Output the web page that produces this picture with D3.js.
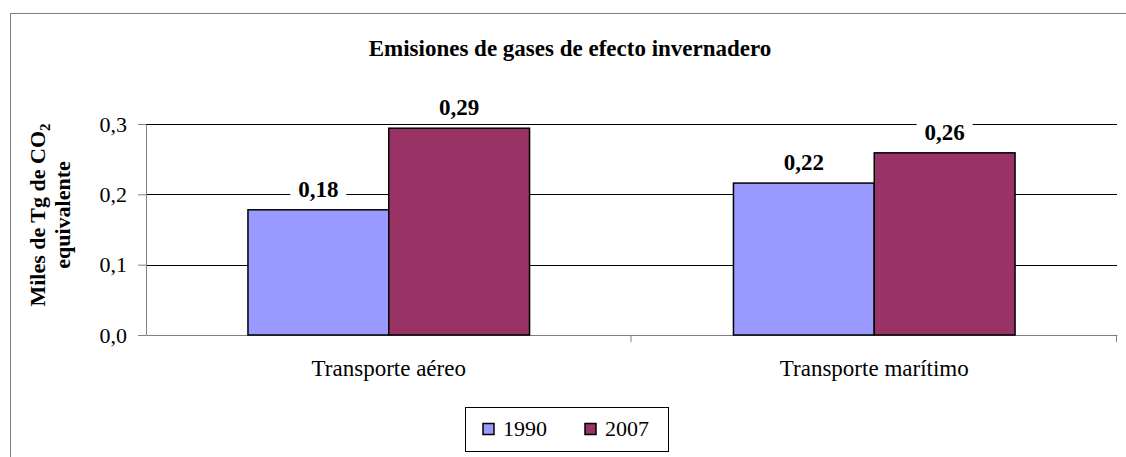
<!DOCTYPE html>
<html>
<head>
<meta charset="utf-8">
<script src="https://cdn.jsdelivr.net/npm/d3@7"></script>
<style>
  body { margin: 0; background: #fff; }
</style>
</head>
<body>
<div id="chart"></div>
<script>
// data
const categories = ["Transporte aéreo", "Transporte marítimo"];
const seriesNames = ["1990", "2007"];
const values1990 = [0.178, 0.216];
const values2007 = [0.294, 0.259];
const yTicks = [0, 0.1, 0.2, 0.3];
const colors = ["#9999FF", "#993366"];

const FONT = "Liberation Serif";
const W = 1126, H = 457;
const margin = { top: 124, right: 9, bottom: 122, left: 146 },
    width = W - margin.left - margin.right,
    height = H - margin.top - margin.bottom;

const fmt = v => d3.format(".2f")(v).replace(".", ",");
const fmtTick = v => d3.format(".1f")(v).replace(".", ",");

const svg = d3.select("#chart").append("svg")
    .attr("width", W)
    .attr("height", H)
    .attr("font-family", FONT);

// outer frame
svg.append("rect")
    .attr("x", 10.5).attr("y", 13.5)
    .attr("width", W).attr("height", H)
    .attr("fill", "none")
    .attr("stroke", "#808080");

const g = svg.append("g")
    .attr("transform", `translate(${margin.left},${margin.top})`);

const x0 = d3.scaleBand()
    .domain(categories)
    .range([0, width])
    .padding(0);

const gap = x0.bandwidth() * 0.21;
const x1 = d3.scaleBand()
    .domain(seriesNames)
    .range([gap, x0.bandwidth() - gap])
    .padding(0);

const y = d3.scaleLinear()
    .domain([0, 0.3])
    .range([height, 0]);

// gridlines
g.append("g")
    .selectAll("line")
    .data(yTicks.filter(d => d > 0))
  .enter().append("line")
    .attr("x1", 0).attr("x2", width)
    .attr("y1", d => Math.round(y(d)) + 0.5)
    .attr("y2", d => Math.round(y(d)) + 0.5)
    .attr("stroke", "#000");

// y axis
const yAxis = g.append("g")
    .call(d3.axisLeft(y).tickValues(yTicks).tickFormat(fmtTick).tickSize(8).tickSizeOuter(0));
yAxis.attr("font-family", FONT).attr("font-size", 22);
yAxis.select(".domain").attr("stroke", "#808080");
yAxis.selectAll(".tick line").attr("stroke", "#808080");
yAxis.selectAll("text")
    .attr("x", -19)
    .attr("fill", "#000");

// x axis
const xAxis = g.append("g")
    .attr("transform", `translate(0,${height})`)
    .call(d3.axisBottom(x0).tickSize(0).tickSizeOuter(0));
xAxis.attr("font-family", FONT).attr("font-size", 23);
xAxis.select(".domain").attr("stroke", "#808080");
xAxis.selectAll("text")
    .attr("dy", null)
    .attr("y", 41)
    .attr("fill", "#000");
// category separators
g.append("g")
    .selectAll("line")
    .data(categories)
  .enter().append("line")
    .attr("x1", d => x0(d) + x0.bandwidth() - 0.5)
    .attr("x2", d => x0(d) + x0.bandwidth() - 0.5)
    .attr("y1", height).attr("y2", height + 7)
    .attr("stroke", "#808080");

// bars
const rows = categories.map((c, i) => ({
    category: c,
    vals: [values1990[i], values2007[i]].map((v, j) => ({ key: seriesNames[j], value: v, color: colors[j] }))
}));

const grp = g.selectAll(".grp")
    .data(rows)
  .enter().append("g")
    .attr("class", "grp")
    .attr("transform", d => `translate(${x0(d.category)},0)`);

grp.selectAll("rect")
    .data(d => d.vals)
  .enter().append("rect")
    .attr("x", d => x1(d.key))
    .attr("y", d => y(d.value))
    .attr("width", x1.bandwidth())
    .attr("height", d => height - y(d.value))
    .attr("fill", d => d.color)
    .attr("stroke", "#000")
    .attr("stroke-width", 1.5);

// value labels with white background
const lab = grp.selectAll(".lab")
    .data(d => d.vals)
  .enter().append("g")
    .attr("class", "lab")
    .attr("transform", d => `translate(${x1(d.key) + x1.bandwidth() / 2},${y(d.value) - 13})`);
lab.append("rect")
    .attr("x", -28).attr("y", -20)
    .attr("width", 56).attr("height", 25)
    .attr("fill", "#fff");
lab.append("text")
    .attr("text-anchor", "middle")
    .attr("font-size", 23)
    .attr("font-weight", "bold")
    .text(d => fmt(d.value));

// title
svg.append("text")
    .attr("x", 570)
    .attr("y", 56)
    .attr("text-anchor", "middle")
    .attr("font-size", 23)
    .attr("font-weight", "bold")
    .text("Emisiones de gases de efecto invernadero");

// y label
const yl = svg.append("text")
    .attr("transform", "translate(45,215) rotate(-90)")
    .attr("text-anchor", "middle")
    .attr("font-size", 22)
    .attr("font-weight", "bold");
yl.append("tspan").attr("x", 0).attr("y", 0).text("Miles de Tg de CO");
yl.append("tspan").attr("dy", 5).attr("font-size", 15).text("2");
yl.append("tspan").attr("x", 0).attr("y", 25).text("equivalente");

// legend
const lg = svg.append("g").attr("transform", "translate(465.5,407.5)");
lg.append("rect")
    .attr("width", 203).attr("height", 44)
    .attr("fill", "#fff")
    .attr("stroke", "#000");
const li = lg.selectAll(".li")
    .data(seriesNames)
  .enter().append("g")
    .attr("transform", (d, i) => `translate(${17.5 + i * 102},16)`);
li.append("rect")
    .attr("width", 11).attr("height", 11)
    .attr("fill", (d, i) => colors[i])
    .attr("stroke", "#000")
    .attr("stroke-width", 1.5);
li.append("text")
    .attr("x", 20).attr("y", 12.5)
    .attr("font-size", 22)
    .text(d => d);
</script>
</body>
</html>
